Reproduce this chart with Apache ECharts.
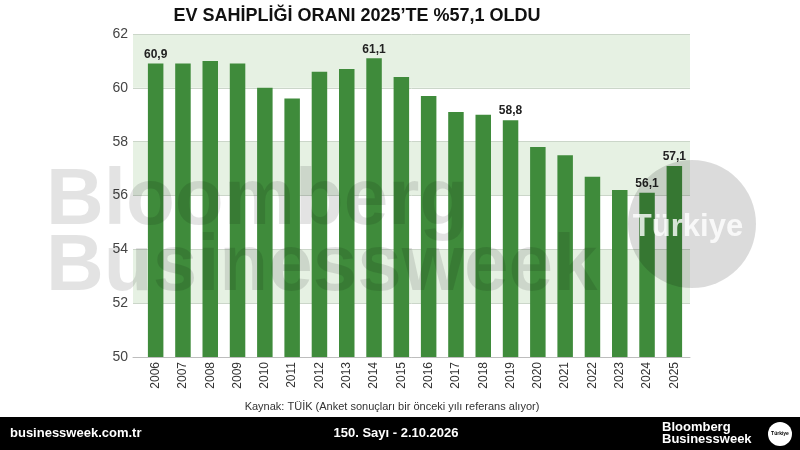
<!DOCTYPE html>
<html>
<head>
<meta charset="utf-8">
<script src="https://cdn.jsdelivr.net/npm/echarts@6/dist/echarts.min.js"></script>
<style>
  html, body { margin: 0; padding: 0; background: #fff; }
  #chart { width: 800px; height: 450px; }
</style>
</head>
<body>
<div id="chart"></div>
<script>
  // ev sahipliği oranı (%), TÜİK
  var years = ['2006', '2007', '2008', '2009', '2010', '2011', '2012', '2013', '2014', '2015',
    '2016', '2017', '2018', '2019', '2020', '2021', '2022', '2023', '2024', '2025'];
  var ownership = [60.9, 60.9, 61.0, 60.9, 60.0, 59.6, 60.6, 60.7, 61.1, 60.4,
    59.7, 59.1, 59.0, 58.8, 57.8, 57.5, 56.7, 56.2, 56.1, 57.1];
  var labeledYears = ['2006', '2014', '2019', '2024', '2025'];
  var yTicks = [50, 62, 2]; // min, max, step

  var FONT = '"Liberation Sans", Arial, sans-serif';
  var chart = echarts.init(document.getElementById('chart'));

  var barData = ownership.map(function (v, i) {
    var item = {value: v};
    if (labeledYears.indexOf(years[i]) >= 0) {
      item.label = {show: true};
    }
    return item;
  });

  chart.setOption({
    animation: false,
    backgroundColor: '#fff',
    grid: [
      {left: 133, right: 110, top: 34, bottom: 93},
      {left: 142, right: 112, top: 34, bottom: 93}
    ],
    xAxis: [
      {
        gridIndex: 0,
        type: 'category',
        data: years,
        axisLine: {lineStyle: {color: '#bdbdbd'}},
        axisTick: {show: false},
        axisLabel: {show: false}
      },
      {
        gridIndex: 1,
        type: 'category',
        data: years,
        axisLine: {show: false},
        axisTick: {show: false},
        axisLabel: {
          rotate: 90,
          margin: 5,
          color: '#333',
          fontSize: 12,
          fontFamily: FONT
        }
      }
    ],
    yAxis: [
      {
        gridIndex: 0,
        type: 'value',
        min: yTicks[0],
        max: yTicks[1],
        interval: yTicks[2],
        axisLine: {show: false},
        axisTick: {show: false},
        axisLabel: {color: '#444', fontSize: 14, margin: 5, fontFamily: FONT},
        splitLine: {lineStyle: {color: '#cbd6c9'}},
        splitArea: {show: true, areaStyle: {color: ['#ffffff', '#e6f1e3']}}
      },
      {
        gridIndex: 1,
        type: 'value',
        min: yTicks[0],
        max: yTicks[1],
        show: false
      }
    ],
    series: [
      {
        type: 'bar',
        xAxisIndex: 1,
        yAxisIndex: 1,
        data: barData,
        barWidth: 15.5,
        itemStyle: {color: '#3f8b3b'},
        label: {
          show: false,
          position: 'top',
          distance: 3,
          color: '#222',
          fontSize: 12,
          fontWeight: 'bold',
          fontFamily: FONT,
          formatter: function (p) {
            return p.value.toFixed(1).replace('.', ',');
          }
        }
      }
    ],
    graphic: [
      {
        type: 'text', x: 357, y: 16, z: 50,
        style: {
          text: 'EV SAHİPLİĞİ ORANI 2025’TE %57,1 OLDU',
          font: 'bold 18px ' + FONT, fill: '#111',
          textAlign: 'center', textVerticalAlign: 'middle'
        }
      },
      {
        type: 'text', x: 392, y: 407, z: 50,
        style: {
          text: 'Kaynak: TÜİK (Anket sonuçları bir önceki yılı referans alıyor)',
          font: '11px ' + FONT, fill: '#333',
          textAlign: 'center', textVerticalAlign: 'middle'
        }
      },
      // watermark
      {
        type: 'text', x: 46, y: 202, z: 100,
        style: {
          text: 'Bloomberg', font: 'bold 80px ' + FONT,
          fill: 'rgba(0,0,0,0.11)', textAlign: 'left', textVerticalAlign: 'middle'
        }
      },
      {
        type: 'text', x: 46, y: 268, z: 100,
        style: {
          text: 'Businessweek', font: 'bold 80px ' + FONT,
          fill: 'rgba(0,0,0,0.11)', textAlign: 'left', textVerticalAlign: 'middle'
        }
      },
      {
        type: 'circle', z: 100,
        shape: {cx: 692, cy: 224, r: 64},
        style: {fill: 'rgba(0,0,0,0.14)'}
      },
      {
        type: 'text', x: 688, y: 227, z: 101,
        style: {
          text: 'Türkiye', font: 'bold 31px ' + FONT,
          fill: 'rgba(255,255,255,0.8)', textAlign: 'center', textVerticalAlign: 'middle'
        }
      },
      // footer
      {
        type: 'rect', z: 50,
        shape: {x: 0, y: 417, width: 800, height: 33},
        style: {fill: '#000'}
      },
      {
        type: 'text', x: 10, y: 433, z: 51,
        style: {
          text: 'businessweek.com.tr', font: 'bold 13px ' + FONT,
          fill: '#fff', textAlign: 'left', textVerticalAlign: 'middle'
        }
      },
      {
        type: 'text', x: 396, y: 433, z: 51,
        style: {
          text: '150. Sayı - 2.10.2026', font: 'bold 13px ' + FONT,
          fill: '#fff', textAlign: 'center', textVerticalAlign: 'middle'
        }
      },
      {
        type: 'text', x: 662, y: 427, z: 51,
        style: {
          text: 'Bloomberg', font: 'bold 13px ' + FONT,
          fill: '#fff', textAlign: 'left', textVerticalAlign: 'middle'
        }
      },
      {
        type: 'text', x: 662, y: 439, z: 51,
        style: {
          text: 'Businessweek', font: 'bold 13px ' + FONT,
          fill: '#fff', textAlign: 'left', textVerticalAlign: 'middle'
        }
      },
      {
        type: 'circle', z: 51,
        shape: {cx: 780, cy: 434, r: 12},
        style: {fill: '#fff'}
      },
      {
        type: 'text', x: 780, y: 434, z: 52,
        style: {
          text: 'Türkiye', font: 'bold 5px ' + FONT,
          fill: '#000', textAlign: 'center', textVerticalAlign: 'middle'
        }
      }
    ]
  });
</script>
</body>
</html>
